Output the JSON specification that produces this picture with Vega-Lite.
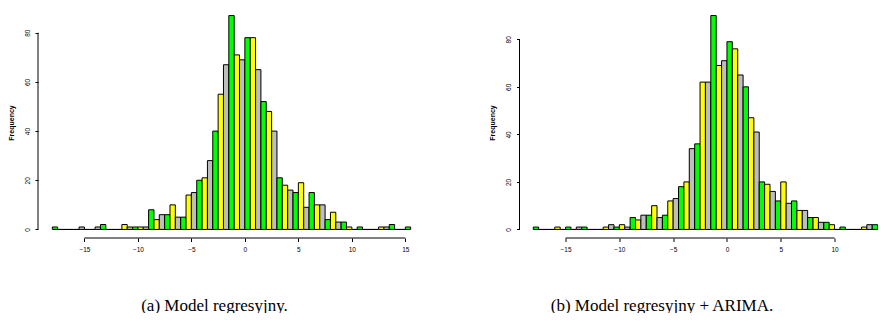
{
  "$schema": "https://vega.github.io/schema/vega-lite/v6.json",
  "padding": {"left": 7, "top": 7, "right": 0, "bottom": 0},
  "spacing": 63.5,
  "config": {
    "view": {"stroke": null},
    "font": "Liberation Sans",
    "axis": {
      "grid": false,
      "domain": false,
      "tickColor": "black",
      "tickWidth": 1,
      "labelFont": "Liberation Sans",
      "labelFontSize": 6.5,
      "labelColor": "black",
      "labelFlush": false,
      "labelOverlap": false,
      "titleColor": "black"
    }
  },
  "datasets": {
    "a": [
      {"start": -18, "end": -17.5, "count": 1}, {"start": -17.5, "end": -17, "count": 0}, {"start": -17, "end": -16.5, "count": 0},
      {"start": -16.5, "end": -16, "count": 0}, {"start": -16, "end": -15.5, "count": 0}, {"start": -15.5, "end": -15, "count": 1},
      {"start": -15, "end": -14.5, "count": 0}, {"start": -14.5, "end": -14, "count": 0}, {"start": -14, "end": -13.5, "count": 1},
      {"start": -13.5, "end": -13, "count": 2}, {"start": -13, "end": -12.5, "count": 0}, {"start": -12.5, "end": -12, "count": 0},
      {"start": -12, "end": -11.5, "count": 0}, {"start": -11.5, "end": -11, "count": 2}, {"start": -11, "end": -10.5, "count": 1},
      {"start": -10.5, "end": -10, "count": 1}, {"start": -10, "end": -9.5, "count": 1}, {"start": -9.5, "end": -9, "count": 1},
      {"start": -9, "end": -8.5, "count": 8}, {"start": -8.5, "end": -8, "count": 4}, {"start": -8, "end": -7.5, "count": 6},
      {"start": -7.5, "end": -7, "count": 6}, {"start": -7, "end": -6.5, "count": 10}, {"start": -6.5, "end": -6, "count": 5},
      {"start": -6, "end": -5.5, "count": 5}, {"start": -5.5, "end": -5, "count": 14}, {"start": -5, "end": -4.5, "count": 15},
      {"start": -4.5, "end": -4, "count": 20}, {"start": -4, "end": -3.5, "count": 21}, {"start": -3.5, "end": -3, "count": 28},
      {"start": -3, "end": -2.5, "count": 40}, {"start": -2.5, "end": -2, "count": 55}, {"start": -2, "end": -1.5, "count": 67},
      {"start": -1.5, "end": -1, "count": 87}, {"start": -1, "end": -0.5, "count": 71}, {"start": -0.5, "end": 0, "count": 69},
      {"start": 0, "end": 0.5, "count": 78}, {"start": 0.5, "end": 1, "count": 78}, {"start": 1, "end": 1.5, "count": 65},
      {"start": 1.5, "end": 2, "count": 52}, {"start": 2, "end": 2.5, "count": 48}, {"start": 2.5, "end": 3, "count": 40},
      {"start": 3, "end": 3.5, "count": 21}, {"start": 3.5, "end": 4, "count": 18}, {"start": 4, "end": 4.5, "count": 16},
      {"start": 4.5, "end": 5, "count": 15}, {"start": 5, "end": 5.5, "count": 19}, {"start": 5.5, "end": 6, "count": 9},
      {"start": 6, "end": 6.5, "count": 15}, {"start": 6.5, "end": 7, "count": 10}, {"start": 7, "end": 7.5, "count": 10},
      {"start": 7.5, "end": 8, "count": 4}, {"start": 8, "end": 8.5, "count": 7}, {"start": 8.5, "end": 9, "count": 3},
      {"start": 9, "end": 9.5, "count": 3}, {"start": 9.5, "end": 10, "count": 1}, {"start": 10, "end": 10.5, "count": 0},
      {"start": 10.5, "end": 11, "count": 1}, {"start": 11, "end": 11.5, "count": 0}, {"start": 11.5, "end": 12, "count": 0},
      {"start": 12, "end": 12.5, "count": 0}, {"start": 12.5, "end": 13, "count": 1}, {"start": 13, "end": 13.5, "count": 1},
      {"start": 13.5, "end": 14, "count": 2}, {"start": 14, "end": 14.5, "count": 0}, {"start": 14.5, "end": 15, "count": 0},
      {"start": 15, "end": 15.5, "count": 1}
    ],
    "b": [
      {"start": -18, "end": -17.5, "count": 1}, {"start": -17.5, "end": -17, "count": 0}, {"start": -17, "end": -16.5, "count": 0},
      {"start": -16.5, "end": -16, "count": 0}, {"start": -16, "end": -15.5, "count": 1}, {"start": -15.5, "end": -15, "count": 0},
      {"start": -15, "end": -14.5, "count": 1}, {"start": -14.5, "end": -14, "count": 0}, {"start": -14, "end": -13.5, "count": 1},
      {"start": -13.5, "end": -13, "count": 1}, {"start": -13, "end": -12.5, "count": 0}, {"start": -12.5, "end": -12, "count": 0},
      {"start": -12, "end": -11.5, "count": 0}, {"start": -11.5, "end": -11, "count": 1}, {"start": -11, "end": -10.5, "count": 2},
      {"start": -10.5, "end": -10, "count": 1}, {"start": -10, "end": -9.5, "count": 2}, {"start": -9.5, "end": -9, "count": 1},
      {"start": -9, "end": -8.5, "count": 5}, {"start": -8.5, "end": -8, "count": 4}, {"start": -8, "end": -7.5, "count": 6},
      {"start": -7.5, "end": -7, "count": 6}, {"start": -7, "end": -6.5, "count": 10}, {"start": -6.5, "end": -6, "count": 5},
      {"start": -6, "end": -5.5, "count": 6}, {"start": -5.5, "end": -5, "count": 12}, {"start": -5, "end": -4.5, "count": 13},
      {"start": -4.5, "end": -4, "count": 18}, {"start": -4, "end": -3.5, "count": 20}, {"start": -3.5, "end": -3, "count": 34},
      {"start": -3, "end": -2.5, "count": 36}, {"start": -2.5, "end": -2, "count": 62}, {"start": -2, "end": -1.5, "count": 62},
      {"start": -1.5, "end": -1, "count": 90}, {"start": -1, "end": -0.5, "count": 69}, {"start": -0.5, "end": 0, "count": 71},
      {"start": 0, "end": 0.5, "count": 79}, {"start": 0.5, "end": 1, "count": 76}, {"start": 1, "end": 1.5, "count": 65},
      {"start": 1.5, "end": 2, "count": 60}, {"start": 2, "end": 2.5, "count": 47}, {"start": 2.5, "end": 3, "count": 41},
      {"start": 3, "end": 3.5, "count": 20}, {"start": 3.5, "end": 4, "count": 19}, {"start": 4, "end": 4.5, "count": 16},
      {"start": 4.5, "end": 5, "count": 12}, {"start": 5, "end": 5.5, "count": 20}, {"start": 5.5, "end": 6, "count": 11},
      {"start": 6, "end": 6.5, "count": 12}, {"start": 6.5, "end": 7, "count": 8}, {"start": 7, "end": 7.5, "count": 8},
      {"start": 7.5, "end": 8, "count": 5}, {"start": 8, "end": 8.5, "count": 5}, {"start": 8.5, "end": 9, "count": 3},
      {"start": 9, "end": 9.5, "count": 3}, {"start": 9.5, "end": 10, "count": 2}, {"start": 10, "end": 10.5, "count": 0},
      {"start": 10.5, "end": 11, "count": 1}, {"start": 11, "end": 11.5, "count": 0}, {"start": 11.5, "end": 12, "count": 0},
      {"start": 12, "end": 12.5, "count": 0}, {"start": 12.5, "end": 13, "count": 1}, {"start": 13, "end": 13.5, "count": 2},
      {"start": 13.5, "end": 14, "count": 2}
    ]
  },
  "hconcat": [
    {
      "width": 387,
      "height": 231,
      "layer": [
        {
          "data": {"name": "a"},
          "transform": [{"calculate": "((datum.start + 18) * 2) % 3", "as": "k"}],
          "mark": {"type": "rect", "stroke": "black", "strokeWidth": 1},
          "encoding": {
            "x": {"field": "start", "type": "quantitative",
              "scale": {"domain": [-19.34, 16.84], "nice": false, "zero": false},
              "axis": {"values": [-15, -10, -5, 0, 5, 10, 15], "tickSize": 3.5, "labelPadding": 5.4,
                "title": "(a) Model regresyjny.", "titleX": 176, "titleY": 72, "titleFont": "Liberation Serif",
                "titleFontSize": 17, "titleFontWeight": "normal", "titleBaseline": "alphabetic", "titleAlign": "center"}},
            "x2": {"field": "end"},
            "y": {"field": "count", "type": "quantitative",
              "scale": {"domain": [-3.48, 90.48], "nice": false, "zero": false},
              "axis": {"values": [0, 20, 40, 60, 80], "tickSize": 3, "labelAngle": 270, "labelAlign": "center",
                "labelBaseline": "bottom", "labelPadding": 4.6, "title": "Frequency", "titleFont": "Liberation Sans",
                "titleFontSize": 7, "titleFontWeight": "bold", "titlePadding": 10}},
            "y2": {"datum": 0},
            "color": {"field": "k", "type": "nominal",
              "scale": {"domain": [0, 1, 2], "range": ["#00FF00", "#FFFF00", "#BEBEBE"]}, "legend": null}
          }
        },
        {
          "data": {"values": [{}]},
          "mark": {"type": "rule", "color": "black", "strokeWidth": 1},
          "encoding": {"x": {"datum": -15}, "x2": {"datum": 15}, "y": {"datum": -3.48}}
        },
        {
          "data": {"values": [{}]},
          "mark": {"type": "rule", "color": "black", "strokeWidth": 1},
          "encoding": {"x": {"datum": -19.34}, "y": {"datum": 0}, "y2": {"datum": 80}}
        }
      ]
    },
    {
      "width": 361,
      "height": 231,
      "layer": [
        {
          "data": {"name": "b"},
          "transform": [{"calculate": "((datum.start + 18) * 2) % 3", "as": "k"}],
          "mark": {"type": "rect", "stroke": "black", "strokeWidth": 1},
          "encoding": {
            "x": {"field": "start", "type": "quantitative",
              "scale": {"domain": [-19.28, 14.27], "nice": false, "zero": false},
              "axis": {"values": [-15, -10, -5, 0, 5, 10], "tickSize": 3.5, "labelPadding": 5.4,
                "title": "(b) Model regresyjny + ARIMA.", "titleX": 142, "titleY": 72, "titleFont": "Liberation Serif",
                "titleFontSize": 17, "titleFontWeight": "normal", "titleBaseline": "alphabetic", "titleAlign": "center"}},
            "x2": {"field": "end"},
            "y": {"field": "count", "type": "quantitative",
              "scale": {"domain": [-3.6, 93.6], "nice": false, "zero": false},
              "axis": {"values": [0, 20, 40, 60, 80], "tickSize": 3, "labelAngle": 270, "labelAlign": "center",
                "labelBaseline": "bottom", "labelPadding": 4.6, "title": "Frequency", "titleFont": "Liberation Sans",
                "titleFontSize": 7, "titleFontWeight": "bold", "titlePadding": 10}},
            "y2": {"datum": 0},
            "color": {"field": "k", "type": "nominal",
              "scale": {"domain": [0, 1, 2], "range": ["#00FF00", "#FFFF00", "#BEBEBE"]}, "legend": null}
          }
        },
        {
          "data": {"values": [{}]},
          "mark": {"type": "rule", "color": "black", "strokeWidth": 1},
          "encoding": {"x": {"datum": -15}, "x2": {"datum": 10}, "y": {"datum": -3.6}}
        },
        {
          "data": {"values": [{}]},
          "mark": {"type": "rule", "color": "black", "strokeWidth": 1},
          "encoding": {"x": {"datum": -19.28}, "y": {"datum": 0}, "y2": {"datum": 80}}
        }
      ]
    }
  ]
}
